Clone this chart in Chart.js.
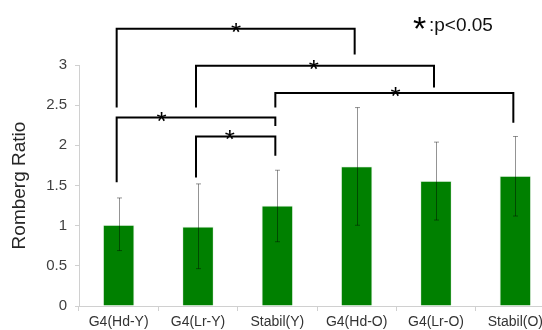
<!DOCTYPE html>
<html>
<head>
<meta charset="utf-8">
<script src="https://cdn.jsdelivr.net/npm/chart.js@4"></script>
<style>
  html, body { margin: 0; padding: 0; background: #fff; overflow: hidden; }
  #wrap { width: 560px; height: 330px; position: relative; }
</style>
</head>
<body>
<div id="wrap"><canvas id="c"></canvas></div>
<script>
// data
var groups = ['G4(Hd-Y)', 'G4(Lr-Y)', 'Stabil(Y)', 'G4(Hd-O)', 'G4(Lr-O)', 'Stabil(O)'];
var means  = [1.01, 0.99, 1.25, 1.74, 1.56, 1.62];
var errHi  = [1.345, 1.52, 1.69, 2.47, 2.04, 2.11];
var errLo  = [0.69, 0.465, 0.80, 1.005, 1.07, 1.12];
var yTicks = [0, 0.5, 1, 1.5, 2, 2.5, 3];

// significance brackets: pairs of groups, bar height and leg ends (in y units)
var sigPairs  = [[0, 3], [1, 4], [0, 2], [1, 2], [2, 5]];
var sigTop    = [3.45, 2.99, 2.345, 2.11, 2.65];
var sigLegL   = [2.47, 2.47, 1.54, 1.60, 2.47];
var sigLegR   = [3.13, 2.72, 2.24, 1.87, 2.28];
var sigStarAt = [1.48, 2.46, 0.54, 1.40, 3.49];   // along the category axis

var FONT = "'Liberation Sans', Arial, sans-serif";

var extras = {
	id: 'extras',
	afterDatasetsDraw: function(chart) {
		var ctx = chart.ctx;
		var x = chart.scales.x, y = chart.scales.y;
		var x0 = x.getPixelForValue(0), step = x.getPixelForValue(1) - x0;
		function xAt(v) { return x0 + v * step; }

		// error bars
		ctx.save();
		ctx.strokeStyle = 'rgba(0,0,0,0.42)';
		ctx.lineWidth = 1;
		for (var i = 0; i < means.length; i++) {
			var cx = Math.round(xAt(i)) + 0.5;
			var t = y.getPixelForValue(errHi[i]), b = y.getPixelForValue(errLo[i]);
			ctx.beginPath();
			ctx.moveTo(cx, t); ctx.lineTo(cx, b);
			ctx.moveTo(cx - 2.5, t); ctx.lineTo(cx + 2.5, t);
			ctx.moveTo(cx - 2.5, b); ctx.lineTo(cx + 2.5, b);
			ctx.stroke();
		}
		ctx.restore();

		// brackets
		ctx.save();
		ctx.strokeStyle = '#000';
		ctx.lineWidth = 2;
		ctx.fillStyle = '#000';
		ctx.font = '26px ' + FONT;
		ctx.textAlign = 'center';
		ctx.textBaseline = 'alphabetic';
		for (var k = 0; k < sigPairs.length; k++) {
			var xl = xAt(sigPairs[k][0]) - 2, xr = xAt(sigPairs[k][1]) - 2;
			var yt = y.getPixelForValue(sigTop[k]);
			ctx.beginPath();
			ctx.moveTo(xl, y.getPixelForValue(sigLegL[k]));
			ctx.lineTo(xl, yt);
			ctx.lineTo(xr, yt);
			ctx.lineTo(xr, y.getPixelForValue(sigLegR[k]));
			ctx.stroke();
			ctx.fillText('*', xAt(sigStarAt[k]), yt + 12);
		}

		// key
		ctx.font = '34px ' + FONT;
		ctx.textAlign = 'left';
		ctx.fillText('*', 413, 40);
		ctx.font = '19px ' + FONT;
		ctx.fillStyle = '#111';
		ctx.fillText(':p<0.05', 429, 31);
		ctx.restore();
	}
};

new Chart(document.getElementById('c'), {
	type: 'bar',
	data: {
		labels: groups,
		datasets: [{
			data: means,
			backgroundColor: '#008000',
			borderColor: 'rgba(235,245,235,0.9)',
			borderWidth: 1,
			barPercentage: 0.40,
			categoryPercentage: 1.0
		}]
	},
	options: {
		responsive: true,
		maintainAspectRatio: false,
		animation: false,
		layout: { padding: { top: 65, right: 5, left: 0, bottom: 0 } },
		plugins: { legend: { display: false }, tooltip: { enabled: false } },
		scales: {
			x: {
				grid: { display: true, drawOnChartArea: false, drawTicks: true, tickLength: 5, color: '#d0d0d0', offset: true },
				border: { color: '#d0d0d0' },
				ticks: { color: '#333', font: { family: FONT, size: 14 }, padding: 3, maxRotation: 0, autoSkip: false },
				afterFit: function(s) { s.height = 24; }
			},
			y: {
				min: 0, max: 3,
				afterBuildTicks: function(s) { s.ticks = yTicks.map(function(v) { return { value: v }; }); },
				grid: { display: true, drawOnChartArea: false, drawTicks: true, tickLength: 4, color: '#d0d0d0' },
				border: { color: '#d0d0d0' },
				ticks: {
					color: '#404040', font: { family: FONT, size: 15 }, padding: 8,
					callback: function(v) { return String(v); }
				},
				title: { display: true, text: 'Romberg Ratio', color: '#262626', font: { family: FONT, size: 19 }, padding: { top: 8, bottom: 0 } },
				afterFit: function(s) { s.width = 79; }
			}
		}
	},
	plugins: [extras]
});
</script>
</body>
</html>
